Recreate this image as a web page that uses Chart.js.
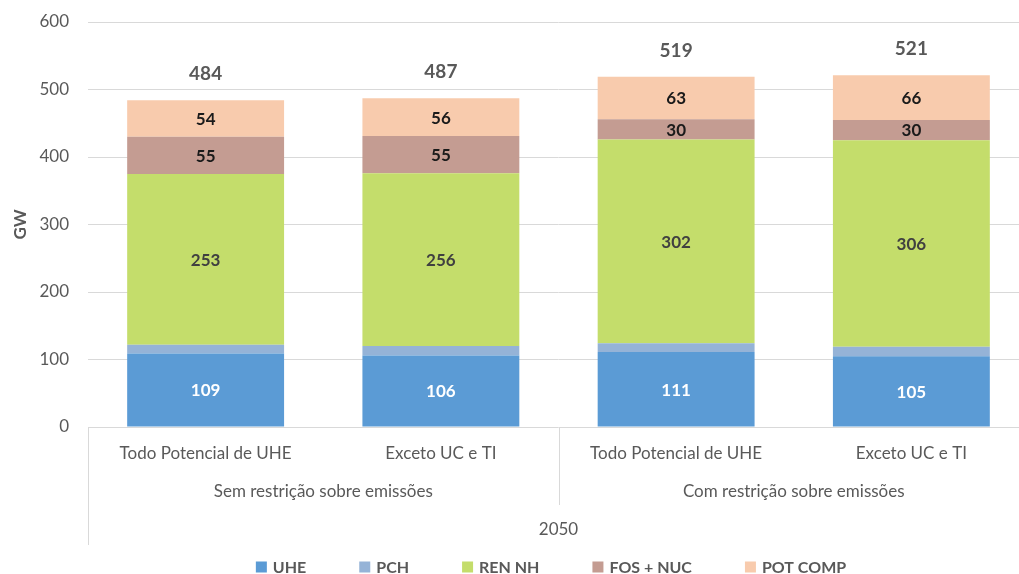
<!DOCTYPE html>
<html>
<head>
<meta charset="utf-8">
<script src="https://cdn.jsdelivr.net/npm/chart.js@4"></script>
<style>
  html, body { margin: 0; background: #fff; overflow: hidden; }
  /* plot area of the original runs slightly past the right edge of the picture */
  #wrap { width: 1029px; height: 574px; position: relative; }
</style>
</head>
<body>
<div id="wrap"><canvas id="chart"></canvas></div>
<script>
// ----- data -----
const categories = ["Todo Potencial de UHE", "Exceto UC e TI", "Todo Potencial de UHE", "Exceto UC e TI"];
const groups = ["Sem restrição sobre emissões", "Com restrição sobre emissões"];
const period = "2050";
const seriesNames = ["UHE", "PCH", "REN NH", "FOS + NUC", "POT COMP"];
const uhe = [109, 106, 111, 105];
const pch = [13, 14, 13, 14];
const renNh = [253, 256, 302, 306];
const fosNuc = [55, 55, 30, 30];
const potComp = [54, 56, 63, 66];
const totals = [484, 487, 519, 521];
const yTicks = [0, 100, 200, 300, 400, 500, 600];

const FONT = "Lato, Carlito, 'Open Sans', sans-serif";
const GRAY = "#595959";

// ----- helpers -----
function ds(label, data, color, labelColor) {
  return { label, data, backgroundColor: color, borderWidth: 0, labelColor,
           categoryPercentage: 1, barPercentage: 0.667 };
}

const valueLabels = {
  id: "valueLabels",
  afterDatasetsDraw(chart) {
    const ctx = chart.ctx;
    ctx.save();
    ctx.textAlign = "center"; ctx.textBaseline = "middle";
    chart.data.datasets.forEach((d, di) => {
      if (!d.labelColor) return;
      const meta = chart.getDatasetMeta(di);
      ctx.font = "bold 17px " + FONT;
      ctx.fillStyle = d.labelColor;
      meta.data.forEach((bar, i) => {
        ctx.fillText(String(d.data[i]), bar.x, (bar.y + bar.base) / 2 + 1);
      });
    });
    // totals above the stack
    const last = chart.getDatasetMeta(chart.data.datasets.length - 1);
    ctx.font = "bold 19px " + FONT;
    ctx.fillStyle = GRAY;
    last.data.forEach((bar, i) => ctx.fillText(String(totals[i]), bar.x, bar.y - 26));
    ctx.restore();
  }
};

const groupAxis = {
  id: "groupAxis",
  afterDraw(chart) {
    const ctx = chart.ctx, x = chart.scales.x, a = chart.chartArea;
    const per = categories.length / groups.length;
    const step = (x.right - x.left) / categories.length;
    ctx.save();
    ctx.strokeStyle = "#d9d9d9"; ctx.lineWidth = 1;
    // outer left line, full height of the axis
    ctx.beginPath(); ctx.moveTo(x.left + 0.5, a.bottom); ctx.lineTo(x.left + 0.5, a.bottom + 118); ctx.stroke();
    // group separators
    for (let g = 1; g < groups.length; g++) {
      const px = Math.round(x.left + step * per * g) + 0.5;
      ctx.beginPath(); ctx.moveTo(px, a.bottom); ctx.lineTo(px, a.bottom + 78); ctx.stroke();
    }
    ctx.fillStyle = GRAY; ctx.textAlign = "center"; ctx.textBaseline = "middle";
    ctx.font = "17px " + FONT;
    groups.forEach((g, gi) => {
      const cx = (x.getPixelForValue(gi * per) + x.getPixelForValue(gi * per + per - 1)) / 2;
      ctx.fillText(g, cx, a.bottom + 65);
    });
    ctx.fillText(period, (x.left + x.right) / 2, a.bottom + 103);

    // legend
    ctx.font = "bold 16px " + FONT;
    const box = 11, gapT = 6, gapI = 53;
    const items = chart.data.datasets.map(d => ({ text: d.label, color: d.backgroundColor, w: box + gapT + ctx.measureText(d.label).width }));
    const total = items.reduce((s, it) => s + it.w, 0) + gapI * (items.length - 1);
    let lx = 551 - total / 2;
    const ly = 567;
    ctx.textAlign = "left";
    items.forEach(it => {
      ctx.fillStyle = it.color; ctx.fillRect(lx, ly - box / 2, box, box);
      ctx.fillStyle = GRAY; ctx.fillText(it.text, lx + box + gapT, ly + 1);
      lx += it.w + gapI;
    });
    ctx.restore();
  }
};

new Chart(document.getElementById("chart"), {
  type: "bar",
  data: {
    labels: categories,
    datasets: [
      ds(seriesNames[0], uhe, "#5b9bd5", "#ffffff"),
      ds(seriesNames[1], pch, "#95b3d7", null),
      ds(seriesNames[2], renNh, "#c4dd6b", "#404040"),
      ds(seriesNames[3], fosNuc, "#c49c92", "#1a1a1a"),
      ds(seriesNames[4], potComp, "#f8cbad", "#1a1a1a")
    ]
  },
  options: {
    responsive: true, maintainAspectRatio: false, animation: false,
    layout: { padding: { top: 22, right: 0, bottom: 26, left: 0 } },
    plugins: { legend: { display: false }, tooltip: { enabled: false } },
    scales: {
      x: {
        stacked: true,
        grid: { display: false }, border: { display: false },
        ticks: { color: GRAY, font: { family: FONT, size: 17 }, padding: 8, maxRotation: 0, autoSkip: false },
        afterFit: (s) => { s.height = 121; }
      },
      y: {
        stacked: true, min: 0, max: 600,
        afterBuildTicks: (s) => { s.ticks = yTicks.map(v => ({ value: v })); },
        grid: { color: "#d9d9d9", drawTicks: true, tickLength: 15, tickColor: "rgba(0,0,0,0)" }, border: { display: false },
        ticks: { color: GRAY, font: { family: FONT, size: 17 }, padding: 4 },
        title: { display: true, text: "GW", color: GRAY, font: { family: FONT, size: 17, weight: "bold" }, padding: { top: 10, bottom: 0 } },
        afterFit: (s) => { s.width = 88; }
      }
    }
  },
  plugins: [valueLabels, groupAxis]
});
</script>
</body>
</html>
